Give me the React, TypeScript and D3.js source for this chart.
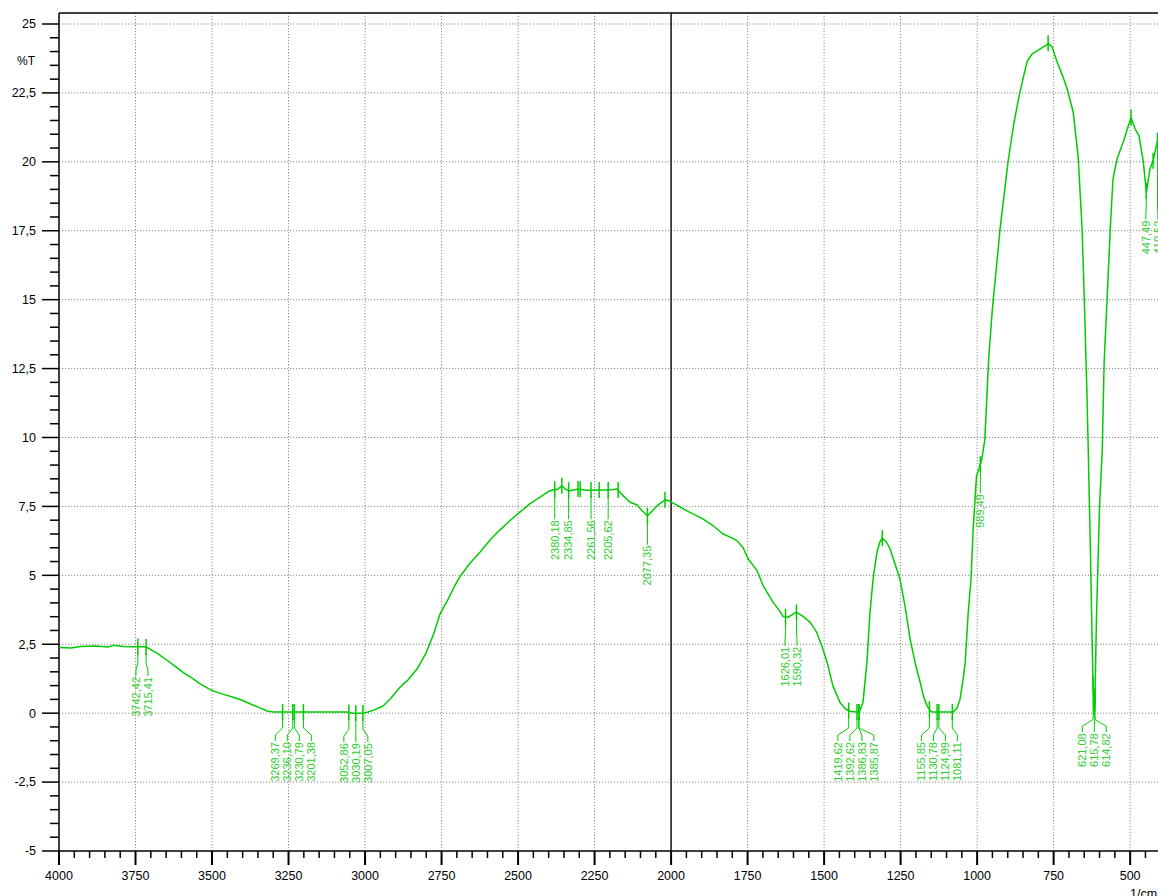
import React, { useEffect, useRef } from 'react';
import * as d3 from 'd3';

// spectrum trace: wavenumber (1/cm) and %T
const waveNumbers = [
  4000, 3960, 3930, 3880, 3840, 3823, 3790, 3758, 3742, 3715, 3703, 3680, 3647, 3620, 3595, 3565,
  3539, 3510, 3497, 3465, 3431, 3400, 3376, 3345, 3320, 3300, 3269, 3236, 3200, 3150, 3100, 3060,
  3040, 3010, 2990, 2970, 2941, 2915, 2886, 2860, 2830, 2800, 2775, 2755, 2730, 2710, 2690, 2660,
  2624, 2590, 2559, 2525, 2493, 2461, 2428, 2400, 2380, 2373, 2357, 2345, 2330, 2304, 2275, 2242,
  2200, 2176, 2157, 2134, 2111, 2095, 2077, 2060, 2046, 2020, 2005, 1993, 1948, 1895, 1863, 1830,
  1800, 1784, 1765, 1748, 1719, 1699, 1667, 1645, 1634, 1618, 1600, 1590, 1570, 1546, 1525, 1507,
  1490, 1471, 1448, 1430, 1415, 1395, 1385, 1373, 1360, 1350, 1340, 1328, 1318, 1310, 1296, 1284,
  1268, 1252, 1236, 1219, 1200, 1186, 1175, 1163, 1150, 1144, 1120, 1100, 1078, 1065, 1056, 1045,
  1039, 1029, 1020, 1013, 1002, 993, 985, 975, 968, 962, 951, 925, 899, 880, 860, 837,
  820, 794, 771, 768, 755, 739, 720, 706, 686, 670, 657, 650, 641, 637, 630, 625,
  621, 618, 615, 610, 600, 591, 585, 575, 565, 556, 543, 523, 509, 497, 484, 471,
  457, 447, 435, 425, 412, 405,
];
const transmittance = [
  2.38, 2.36, 2.42, 2.44, 2.4, 2.46, 2.42, 2.41, 2.42, 2.4, 2.32, 2.18, 1.92, 1.7, 1.48, 1.27,
  1.06, 0.88, 0.81, 0.69, 0.58, 0.46, 0.34, 0.2, 0.08, 0.04, 0.04, 0.04, 0.04, 0.04, 0.04, 0.04,
  0.0, 0.0, 0.04, 0.12, 0.26, 0.55, 0.94, 1.2, 1.6, 2.2, 2.9, 3.6, 4.1, 4.55, 4.95, 5.4,
  5.85, 6.3, 6.65, 7.0, 7.3, 7.6, 7.84, 8.05, 8.12, 8.1, 8.25, 8.12, 8.07, 8.13, 8.09, 8.1,
  8.1, 8.13, 7.89, 7.65, 7.55, 7.35, 7.16, 7.35, 7.52, 7.74, 7.7, 7.62, 7.34, 7.04, 6.8, 6.5,
  6.35, 6.25, 6.01, 5.59, 5.17, 4.62, 4.03, 3.7, 3.51, 3.48, 3.6, 3.66, 3.52, 3.3, 2.95, 2.43,
  1.84, 0.98, 0.39, 0.15, 0.07, 0.04, 0.04, 0.39, 1.85, 3.66, 4.86, 5.8, 6.2, 6.35, 6.2, 5.95,
  5.4, 4.86, 3.9, 2.69, 1.7, 1.12, 0.6, 0.25, 0.06, 0.04, 0.04, 0.04, 0.04, 0.2, 0.5, 1.3,
  1.85, 3.66, 4.86, 6.68, 8.6, 8.9, 9.2, 9.9, 11.5, 12.9, 14.55, 17.57, 20.0, 21.4, 22.54, 23.63,
  23.92, 24.1, 24.25, 24.3, 24.17, 23.63, 23.1, 22.65, 21.8, 20.2, 17.57, 15.1, 11.5, 9.58, 6.0, 3.0,
  1.0, -0.05, 0.5, 3.5, 7.5, 9.58, 12.73, 15.1, 17.57, 19.38, 20.1, 20.7, 21.2, 21.6, 21.2, 20.94,
  20.0, 18.9, 19.75, 20.04, 20.7, 21.0,
];

// labelled peaks
const peakPositions = [
  3742.42, 3715.41, 3269.37, 3236.1, 3230.79, 3201.38, 3052.86, 3030.19, 3007.05,
  2380.18, 2334.85, 2261.56, 2205.62, 2077.35, 1626.01, 1590.32,
  1419.62, 1392.62, 1386.83, 1385.87, 1155.85, 1130.78, 1124.99, 1081.11,
  989.49, 621.08, 615.78, 614.82, 447.49, 410.52,
];
// unlabelled peak markers
const markerPositions = [2357, 2304, 2297, 2235, 2173, 2020, 1310, 768, 497, 425];

const xMajor = [4000, 3750, 3500, 3250, 3000, 2750, 2500, 2250, 2000, 1750, 1500, 1250, 1000, 750, 500];
const yMajor = [-5, -2.5, 0, 2.5, 5, 7.5, 10, 12.5, 15, 17.5, 20, 22.5, 25];

const W = 1158;
const H = 896;
const FONT = '"Liberation Sans", Arial, sans-serif';
const GREEN = '#00cc00';
const LABEL_GREEN = '#2ecc2e';

const comma = (v: number) => String(v).replace('.', ',');

const App = () => {
  const ref = useRef<SVGSVGElement>(null);

  useEffect(() => {
    const svg = d3.select(ref.current);
    svg.selectAll('*').remove();

    const x = d3.scaleLinear().domain([4000, 409]).range([59, W]);
    const y = d3.scaleLinear().domain([-5, 25]).range([851, 24]);
    const top = y(25.4);
    const bottom = y(-5);
    const left = x(4000);

    const data = waveNumbers.map((w, i) => ({ w, t: transmittance[i] }));
    const tAt = (w: number) => {
      for (let i = 0; i < data.length - 1; i++) {
        const a = data[i], b = data[i + 1];
        if (w <= a.w && w >= b.w) {
          const k = (a.w - w) / (a.w - b.w);
          return a.t + k * (b.t - a.t);
        }
      }
      return data[data.length - 1].t;
    };

    // grid
    const grid = svg.append('g');
    xMajor.filter(v => v !== 4000 && v !== 2000).forEach(v => {
      grid.append('line')
        .attr('x1', x(v)).attr('x2', x(v)).attr('y1', top).attr('y2', bottom)
        .attr('stroke', '#8a8a8a').attr('stroke-dasharray', '1.2,1.8');
    });
    yMajor.filter(v => v !== -5).forEach(v => {
      grid.append('line')
        .attr('x1', left).attr('x2', W).attr('y1', y(v)).attr('y2', y(v))
        .attr('stroke', '#8a8a8a').attr('stroke-dasharray', '1.2,1.8');
    });

    // frame + 2000 divider
    svg.append('line').attr('x1', left).attr('x2', W).attr('y1', top).attr('y2', top)
      .attr('stroke', '#000').attr('stroke-width', 1.5);
    svg.append('line').attr('x1', x(2000)).attr('x2', x(2000)).attr('y1', top).attr('y2', bottom)
      .attr('stroke', '#111').attr('stroke-width', 1.5);

    // x axis
    const xAxis = svg.append('g');
    xAxis.append('line').attr('x1', left).attr('x2', W).attr('y1', bottom).attr('y2', bottom)
      .attr('stroke', '#000').attr('stroke-width', 1.5);
    d3.range(4000, 409, -50).forEach(v => {
      const major = v % 250 === 0;
      xAxis.append('line')
        .attr('x1', x(v)).attr('x2', x(v)).attr('y1', bottom).attr('y2', bottom + (major ? 14 : 7))
        .attr('stroke', '#000').attr('stroke-width', major ? 2 : 1.5);
    });
    xMajor.forEach(v => {
      xAxis.append('text')
        .attr('x', x(v)).attr('y', bottom + 29)
        .attr('text-anchor', 'middle').attr('font-family', FONT).attr('font-size', 12.5)
        .text(v);
    });
    xAxis.append('text').attr('x', 1130).attr('y', 898)
      .attr('font-family', FONT).attr('font-size', 12.5).text('1/cm');

    // y axis
    const yAxis = svg.append('g');
    yAxis.append('line').attr('x1', left).attr('x2', left).attr('y1', top).attr('y2', bottom + 14)
      .attr('stroke', '#000').attr('stroke-width', 1.5);
    d3.range(-5, 25.01, 0.5).forEach(v => {
      const major = Math.abs(v / 2.5 - Math.round(v / 2.5)) < 1e-6;
      yAxis.append('line')
        .attr('x1', left - (major ? 17 : 9)).attr('x2', left).attr('y1', y(v)).attr('y2', y(v))
        .attr('stroke', '#000').attr('stroke-width', 1.5);
    });
    yMajor.forEach(v => {
      yAxis.append('text')
        .attr('x', 36).attr('y', y(v)).attr('dy', '0.35em')
        .attr('text-anchor', 'end').attr('font-family', FONT).attr('font-size', 12.5)
        .text(comma(v));
    });
    yAxis.append('text').attr('x', 35).attr('y', 61).attr('dy', '0.35em')
      .attr('text-anchor', 'end').attr('font-family', FONT).attr('font-size', 12)
      .text('%T');

    // spectrum
    const line = d3.line<{ w: number; t: number }>()
      .x(d => x(d.w))
      .y(d => y(d.t));
    svg.append('path')
      .datum(data)
      .attr('fill', 'none')
      .attr('stroke', GREEN)
      .attr('stroke-width', 1.5)
      .attr('stroke-linejoin', 'round')
      .attr('d', line);

    // peak markers
    const marks = svg.append('g');
    [...peakPositions, ...markerPositions].forEach(w => {
      const cy = y(tAt(w));
      marks.append('line')
        .attr('x1', x(w)).attr('x2', x(w)).attr('y1', cy - 8).attr('y2', cy + 8)
        .attr('stroke', GREEN).attr('stroke-width', 1.5);
    });

    // peak labels: group close peaks, spread labels apart
    const peaks = peakPositions
      .map(w => ({ w, px: x(w), cy: y(tAt(w)), lx: x(w) }))
      .sort((a, b) => a.px - b.px);
    const groups: typeof peaks[] = [];
    peaks.forEach(p => {
      const g = groups[groups.length - 1];
      if (g && p.px - g[g.length - 1].px < 24) g.push(p);
      else groups.push([p]);
    });
    const gap = 12;
    groups.forEach(g => {
      for (let it = 0; it < 200; it++) {
        let moved = false;
        for (let i = 0; i < g.length - 1; i++) {
          const d = g[i + 1].lx - g[i].lx;
          if (d < gap - 0.01) {
            const s = (gap - d) / 2;
            g[i].lx -= s;
            g[i + 1].lx += s;
            moved = true;
          }
        }
        if (!moved) break;
      }
      const labelTop = d3.max(g, p => p.cy)! + 30;
      g.forEach(p => {
        const path = d3.path();
        path.moveTo(p.px, p.cy + 6);
        path.lineTo(p.px, labelTop - 14);
        path.lineTo(p.lx, labelTop - 7);
        path.lineTo(p.lx, labelTop - 1);
        marks.append('path').attr('d', path.toString())
          .attr('fill', 'none').attr('stroke', GREEN).attr('stroke-width', 1);
        marks.append('text')
          .attr('transform', `translate(${p.lx},${labelTop}) rotate(-90)`)
          .attr('dy', '0.35em')
          .attr('text-anchor', 'end')
          .attr('font-family', FONT)
          .attr('font-size', 11)
          .attr('fill', LABEL_GREEN)
          .text(p.w.toFixed(2).replace('.', ','));
      });
    });
  }, []);

  return (
    <svg
      ref={ref}
      width={W}
      height={H}
      style={{ position: 'absolute', left: 0, top: 0, background: '#fff' }}
    />
  );
};

export default App;
